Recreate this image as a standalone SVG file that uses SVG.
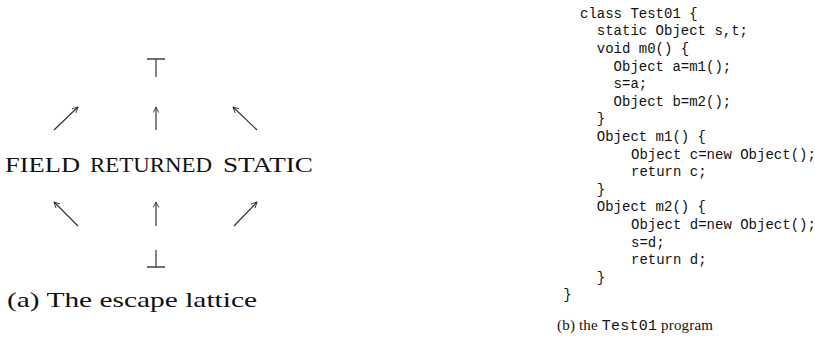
<svg xmlns="http://www.w3.org/2000/svg" width="815" height="349" viewBox="0 0 815 349">
  <style>
    .lat { font-family: "Liberation Serif", "DejaVu Serif", serif; font-size: 22px; fill: #111; }
    .code { font-family: "Liberation Mono", "DejaVu Sans Mono", monospace; font-size: 14px; fill: #111; white-space: pre; }
    .cap { font-family: "Liberation Serif", "DejaVu Serif", serif; font-size: 15px; fill: #111; }
    .capmono { font-family: "Liberation Mono", "DejaVu Sans Mono", monospace; font-size: 15px; }
    .edge { stroke: #333; stroke-width: 1.2; fill: none; marker-end: url(#tip); }
    .sym { stroke: #444; stroke-width: 1.3; fill: none; }
  </style>
  <defs>
    <marker id="tip" viewBox="0 0 10 10" refX="9" refY="5" markerWidth="7" markerHeight="7" markerUnits="userSpaceOnUse" orient="auto">
      <path d="M1,1 L9,5 L1,9" fill="none" stroke="#333" stroke-width="1.3"/>
    </marker>
  </defs>

  <!-- top element -->
  <g id="top">
    <path class="sym" d="M147,59 H165 M156,59 V77"/>
  </g>

  <!-- middle elements -->
  <g id="field">
    <text class="lat" x="5" y="172" textLength="75" lengthAdjust="spacingAndGlyphs">FIELD</text>
  </g>
  <g id="returned">
    <text class="lat" x="90" y="172" textLength="122" lengthAdjust="spacingAndGlyphs">RETURNED</text>
  </g>
  <g id="static">
    <text class="lat" x="223" y="172" textLength="90" lengthAdjust="spacingAndGlyphs">STATIC</text>
  </g>

  <!-- bottom element -->
  <g id="bottom">
    <path class="sym" d="M156,250 V267 M147,267 H165"/>
  </g>

  <!-- lattice ordering arrows -->
  <g id="connectors">
    <line class="edge" x1="54" y1="130" x2="78" y2="107"/>
    <line class="edge" x1="156" y1="130" x2="156" y2="107"/>
    <line class="edge" x1="257" y1="130" x2="233" y2="107"/>
    <line class="edge" x1="78" y1="226" x2="54" y2="202"/>
    <line class="edge" x1="156" y1="226" x2="156" y2="202"/>
    <line class="edge" x1="234" y1="226" x2="257" y2="202"/>
  </g>

  <text class="lat" x="7" y="307" textLength="250" lengthAdjust="spacingAndGlyphs">(a) The escape lattice</text>

  <!-- program listing -->
  <g id="listing">
    <text class="code" x="580" y="17.7">class Test01 {</text>
    <text class="code" x="596.8" y="35.3">static Object s,t;</text>
    <text class="code" x="596.8" y="52.9">void m0() {</text>
    <text class="code" x="613.6" y="70.5">Object a=m1();</text>
    <text class="code" x="613.6" y="88.1">s=a;</text>
    <text class="code" x="613.6" y="105.7">Object b=m2();</text>
    <text class="code" x="596.8" y="123.3">}</text>
    <text class="code" x="596.8" y="140.9">Object m1() {</text>
    <text class="code" x="631" y="158.5">Object c=new Object();</text>
    <text class="code" x="631" y="176.1">return c;</text>
    <text class="code" x="596.8" y="193.7">}</text>
    <text class="code" x="596.8" y="211.3">Object m2() {</text>
    <text class="code" x="631" y="228.9">Object d=new Object();</text>
    <text class="code" x="631" y="246.5">s=d;</text>
    <text class="code" x="631" y="264.1">return d;</text>
    <text class="code" x="596.8" y="281.7">}</text>
    <text class="code" x="563.2" y="299.3">}</text>
  </g>

  <text class="cap" x="557" y="330" textLength="156" lengthAdjust="spacing">(b) the <tspan class="capmono">Test01</tspan> program</text>
</svg>
